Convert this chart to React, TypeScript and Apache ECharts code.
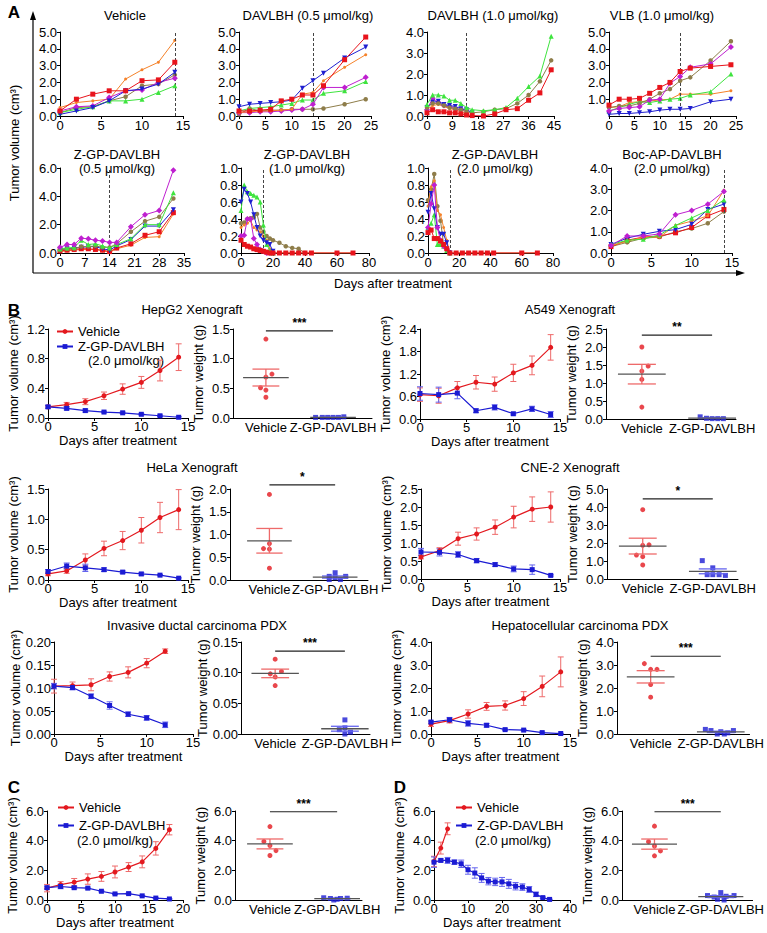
import React, { useEffect, useRef } from "react";
import * as echarts from "echarts";

const FONT = '"Liberation Sans", Arial, Helvetica, sans-serif';
const BLACK = "#000";

// ---------- Panel A data (individual mice) ----------
const aVehDays = [0, 2, 4, 6, 8, 10, 12, 14];
const aVehOrange = [0.5, 0.8, 0.9, 1.0, 2.2, 2.75, 3.2, 4.5];
const aVehRed = [0.3, 1.0, 1.3, 1.5, 1.5, 2.1, 2.15, 3.2];
const aVehBlue = [0.1, 0.3, 0.5, 0.9, 1.5, 1.6, 1.9, 2.6];
const aVehMagenta = [0.3, 0.55, 0.6, 1.1, 1.5, 1.55, 2.0, 2.25];
const aVehOlive = [0.2, 0.5, 0.55, 0.9, 1.15, 1.8, 1.9, 2.45];
const aVehGreen = [0.2, 0.4, 0.55, 0.9, 0.9, 1.0, 1.4, 1.8];

const a05Days = [0, 2, 4, 6, 8, 10, 12, 14, 16, 20, 24];
const a05Blue = [0.55, 0.7, 0.75, 0.8, 0.85, 0.95, 1.65, 2.1, 2.55, 3.45, 4.1];
const a05Red = [0.3, 0.3, 0.35, 0.4, 0.9, 1.0, 1.25, 1.25, 1.8, 3.35, 4.7];
const a05Orange = [0.2, 0.25, 0.3, 0.3, 0.35, 0.4, 1.3, 1.4, 2.1, 2.9, 3.65];
const a05Magenta = [0.2, 0.2, 0.25, 0.25, 0.3, 0.35, 0.4, 0.7, 1.7, 1.7, 2.3];
const a05Green = [0.3, 0.45, 0.5, 0.55, 0.65, 0.75, 0.95, 0.95, 1.35, 1.5, 2.05];
const a05Olive = [0.1, 0.45, 0.3, 0.35, 0.35, 0.4, 0.4, 0.4, 0.45, 0.7, 1.0];

const a10Days = [0, 2, 4, 6, 8, 10, 12, 14, 16, 20, 24, 28, 32, 36, 40, 44];
const a10Green = [0.55, 1.0, 1.0, 0.95, 0.75, 0.75, 0.6, 0.4, 0.3, 0.25, 0.3, 0.4, 0.85, 1.4, 1.9, 3.8];
const a10Olive = [0.4, 0.6, 0.6, 0.5, 0.4, 0.35, 0.3, 0.2, 0.15, 0.2, 0.3, 0.35, 0.6, 1.0, 1.65, 2.65];
const a10Red = [0.15, 0.3, 0.2, 0.2, 0.15, 0.15, 0.1, 0.05, 0.02, 0.0, 0.1, 0.3, 0.35, 0.75, 1.1, 2.2];
const a10Magenta = [0.3, 0.85, 0.65, 0.5, 0.45, 0.35, 0.3, 0.3];
const a10Blue = [0.4, 0.65, 0.7, 0.55, 0.5, 0.45, 0.35, 0.3, 0.15];
const a10Orange = [0.3, 0.5, 0.55, 0.45, 0.35, 0.3, 0.2, 0.1];

const vlbDays = [0, 2, 4, 6, 8, 10, 12, 14, 16, 20, 24];
const vlbRed = [0.65, 1.0, 1.0, 1.05, 1.35, 1.7, 2.0, 2.65, 2.85, 2.95, 3.05];
const vlbOlive = [0.5, 0.6, 0.6, 0.75, 1.0, 1.35, 1.6, 2.1, 2.3, 3.3, 4.45];
const vlbMagenta = [0.3, 0.45, 0.5, 0.55, 0.95, 1.0, 1.95, 2.35, 2.9, 3.1, 4.1];
const vlbGreen = [0.3, 0.5, 0.7, 0.85, 0.8, 0.9, 1.0, 1.05, 1.25, 1.45, 2.5];
const vlbOrange = [0.5, 0.55, 0.8, 0.85, 0.9, 0.95, 1.0, 1.3, 1.3, 1.3, 1.5];
const vlbBlue = [0.1, 0.15, 0.15, 0.2, 0.25, 0.35, 0.4, 0.4, 0.45, 0.85, 1.0];

const z05Days = [0, 2, 4, 6, 8, 10, 12, 14, 16, 20, 24, 28, 32];
const z05Magenta = [0.4, 0.6, 0.6, 1.05, 1.0, 0.9, 0.85, 0.75, 0.75, 1.85, 2.7, 3.0, 5.85];
const z05Green = [0.3, 0.35, 0.4, 0.9, 0.6, 0.65, 0.5, 0.35, 0.6, 1.0, 2.0, 2.0, 4.25];
const z05Olive = [0.2, 0.3, 0.3, 0.45, 0.45, 0.5, 0.4, 0.4, 0.65, 1.5, 2.25, 2.55, 3.85];
const z05Blue = [0.25, 0.3, 0.35, 0.4, 0.45, 0.45, 0.3, 0.2, 0.5, 0.95, 1.9, 1.9, 3.05];
const z05Red = [0.15, 0.2, 0.25, 0.3, 0.3, 0.25, 0.2, 0.1, 0.35, 0.65, 1.25, 1.5, 2.85];
const z05Orange = [0.1, 0.15, 0.2, 0.25, 0.25, 0.25, 0.15, 0.05, 0.3, 0.55, 1.1, 1.15, 2.75];

const z10Days = [0, 2, 4, 6, 8, 10, 12, 14, 16, 18, 20, 24, 28, 32, 36, 40, 44, 60, 70];
const z10Green = [0.5, 0.8, 0.72, 0.7, 0.68, 0.66, 0.6, 0.33, 0.1, 0.03, 0];
const z10Blue = [0.6, 0.75, 0.7, 0.6, 0.45, 0.3, 0.2, 0.15, 0.12, 0.1, 0.02];
const z10Olive = [0.35, 0.36, 0.4, 0.41, 0.42, 0.46, 0.3, 0.25, 0.2, 0.17, 0.15, 0.12, 0.08, 0.06, 0.05, 0.0];
const z10Orange = [0.3, 0.33, 0.35, 0.38, 0.3, 0.27, 0.25, 0.2, 0.15, 0.05, 0, 0, 0, 0, 0, 0, 0, 0, 0];
const z10Magenta = [0.2, 0.21, 0.4, 0.4, 0.17, 0.1, 0.04, 0.02, 0, 0, 0];
const z10Red = [0.15, 0.1, 0.08, 0.07, 0.05, 0.04, 0.03, 0.02, 0.01, 0, 0, 0, 0, 0, 0, 0, 0, 0, 0];

const z20Days = [0, 2, 4, 6, 8, 10, 12, 14, 18, 22, 26, 30, 34, 38, 42, 60, 70];
const z20Olive = [0.62, 0.75, 0.93, 0.55, 0.38, 0.1, 0.05, 0];
const z20Orange = [0.55, 0.78, 0.85, 0.5, 0.45, 0.3, 0.15, 0, 0, 0, 0, 0, 0, 0, 0, 0, 0];
const z20Blue = [0.48, 0.7, 0.52, 0.3, 0.22, 0.22, 0.12, 0];
const z20Magenta = [0.3, 0.58, 0.8, 0.3, 0.15, 0.08, 0.05, 0];
const z20Green = [0.3, 0.35, 0.45, 0.1, 0.1, 0.08, 0.03, 0];
const z20Red = [0.24, 0.27, 0.17, 0.17, 0.14, 0.1, 0.05, 0, 0, 0, 0, 0, 0, 0, 0, 0, 0];

const bocDays = [0, 2, 4, 6, 8, 10, 12, 14];
const bocMagenta = [0.35, 0.8, 0.8, 0.9, 1.8, 2.0, 2.3, 2.9];
const bocGreen = [0.4, 0.6, 0.65, 0.85, 1.3, 1.65, 2.0, 2.5];
const bocBlue = [0.4, 0.7, 0.88, 1.02, 1.1, 1.35, 2.05, 2.3];
const bocOrange = [0.35, 0.55, 0.75, 0.75, 1.3, 1.5, 1.75, 2.95];
const bocRed = [0.3, 0.6, 0.75, 0.8, 0.95, 1.2, 1.75, 2.05];
const bocOlive = [0.3, 0.5, 0.7, 0.75, 1.0, 1.15, 1.4, 1.95];

// ---------- Panel B/C/D data (mean ± SEM, tumour weights) ----------
const bDays = [0, 2, 4, 6, 8, 10, 12, 14];
const pdxIdcDays = [0, 2, 4, 6, 8, 10, 12];
const cDays = [0, 2, 4, 6, 8, 10, 12, 14, 16, 18];
const dVehDays = [0, 2, 4];
const dZgpDays = [0, 2, 4, 6, 8, 10, 12, 14, 16, 18, 20, 22, 24, 26, 28, 30, 32, 34];
const weightCats = ["Vehicle", "Z-GP-DAVLBH"];

const hepVehMean = [0.15, 0.18, 0.22, 0.3, 0.39, 0.48, 0.64, 0.82];
const hepVehErr = [0.02, 0.03, 0.04, 0.05, 0.07, 0.08, 0.14, 0.18];
const hepZgpMean = [0.15, 0.13, 0.1, 0.08, 0.07, 0.05, 0.03, 0.01];
const hepZgpErr = [0.02, 0.02, 0.02, 0.01, 0.01, 0.01, 0.01, 0.01];
const hepVehW = [1.33, 0.74, 0.69, 0.51, 0.47, 0.35];
const hepVehJit = [0, 0.09, 0, -0.08, 0, 0];
const hepZgpW = [0.01, 0.01, 0.01, 0.01, 0.01, 0.02];
const hepZgpJit = [-0.26, -0.16, -0.08, 0, 0.08, 0.16];

const a549VehMean = [0.65, 0.62, 0.83, 0.98, 0.93, 1.23, 1.43, 1.91];
const a549VehErr = [0.18, 0.2, 0.17, 0.18, 0.19, 0.23, 0.25, 0.34];
const a549ZgpMean = [0.68, 0.65, 0.69, 0.22, 0.31, 0.14, 0.27, 0.12];
const a549ZgpErr = [0.18, 0.2, 0.15, 0.05, 0.07, 0.03, 0.07, 0.08];
const a549VehW = [2.0, 1.47, 1.33, 1.1, 0.33];
const a549VehJit = [0, 0.09, 0, 0, 0];
const a549ZgpW = [0.06, 0.02, 0.01, 0.01, 0.01];
const a549ZgpJit = [-0.17, -0.08, 0, 0.08, 0.16];

const helaVehMean = [0.1, 0.15, 0.33, 0.52, 0.65, 0.82, 1.03, 1.16];
const helaVehErr = [0.03, 0.04, 0.1, 0.12, 0.15, 0.21, 0.25, 0.33];
const helaZgpMean = [0.14, 0.23, 0.2, 0.17, 0.13, 0.1, 0.08, 0.03];
const helaZgpErr = [0.03, 0.05, 0.06, 0.03, 0.02, 0.02, 0.01, 0.01];
const helaVehW = [1.88, 0.8, 0.69, 0.68, 0.26];
const helaVehJit = [0, 0, -0.09, 0.0, 0];
const helaZgpW = [0.16, 0.08, 0.08, 0.05, 0.01, 0.01];
const helaZgpJit = [0, -0.09, 0.16, 0, -0.09, 0.08];

const cneVehMean = [0.61, 0.79, 1.12, 1.25, 1.44, 1.72, 1.94, 2.0];
const cneVehErr = [0.05, 0.08, 0.18, 0.17, 0.2, 0.3, 0.34, 0.42];
const cneZgpMean = [0.75, 0.74, 0.68, 0.51, 0.4, 0.28, 0.26, 0.1];
const cneZgpErr = [0.1, 0.1, 0.08, 0.06, 0.05, 0.08, 0.13, 0.02];
const cneVehW = [3.85, 1.9, 1.87, 1.33, 1.24, 0.78];
const cneVehJit = [0, 0.09, 0, -0.09, 0, 0];
const cneZgpW = [1.02, 0.62, 0.24, 0.24, 0.24, 0.2];
const cneZgpJit = [-0.15, 0, -0.08, 0, 0.09, 0.18];

const idcVehMean = [0.104, 0.105, 0.107, 0.125, 0.134, 0.154, 0.18];
const idcVehErr = [0.015, 0.008, 0.013, 0.01, 0.012, 0.01, 0.005];
const idcZgpMean = [0.104, 0.101, 0.082, 0.062, 0.043, 0.035, 0.02];
const idcZgpErr = [0.006, 0.005, 0.005, 0.008, 0.005, 0.005, 0.006];
const idcVehW = [0.122, 0.102, 0.098, 0.093, 0.079];
const idcVehJit = [0, 0.09, -0.07, 0, 0];
const idcZgpW = [0.023, 0.01, 0.007, 0.003, 0.0];
const idcZgpJit = [0, 0, -0.08, 0.08, 0];

const hccVehMean = [0.43, 0.58, 0.87, 1.2, 1.24, 1.54, 2.07, 2.7];
const hccVehErr = [0.1, 0.1, 0.18, 0.17, 0.2, 0.3, 0.45, 0.65];
const hccZgpMean = [0.52, 0.62, 0.46, 0.38, 0.19, 0.17, 0.06, 0.02];
const hccZgpErr = [0.05, 0.1, 0.12, 0.08, 0.03, 0.03, 0.02, 0.01];
const hccVehW = [3.06, 2.81, 2.81, 2.15, 1.6];
const hccVehJit = [-0.09, 0, 0.09, 0, 0];
const hccZgpW = [0.2, 0.15, 0.15, 0.1, 0.05, 0.0, 0.0];
const hccZgpJit = [-0.22, -0.14, 0.18, 0, 0.1, -0.05, 0.05];

const cVehMean = [0.8, 1.04, 1.2, 1.41, 1.59, 1.89, 2.22, 2.57, 3.48, 4.74];
const cVehErr = [0.25, 0.2, 0.25, 0.35, 0.33, 0.4, 0.3, 0.4, 0.45, 0.35];
const cZgpMean = [0.83, 0.91, 0.83, 0.8, 0.59, 0.41, 0.43, 0.28, 0.13, 0.07];
const cZgpErr = [0.1, 0.15, 0.08, 0.06, 0.04, 0.04, 0.04, 0.03, 0.03, 0.02];
const cVehW = [4.95, 3.95, 3.67, 3.33, 3.0];
const cVehJit = [0, -0.09, 0, 0.09, 0];
const cZgpW = [0.15, 0.12, 0.1, 0.1, 0.05, 0.0];
const cZgpJit = [-0.2, 0.15, -0.1, 0.05, 0, -0.05];

const dVehMean = [2.6, 3.5, 4.8];
const dVehErr = [0.35, 0.4, 0.4];
const dZgpMean = [2.55, 2.67, 2.67, 2.55, 2.44, 2.04, 1.82, 1.49, 1.27, 1.22, 1.22, 1.09, 0.93, 0.87, 0.71, 0.38, 0.16, 0.04];
const dZgpErr = [0.35, 0.1, 0.2, 0.15, 0.25, 0.3, 0.35, 0.3, 0.25, 0.25, 0.3, 0.3, 0.25, 0.22, 0.2, 0.15, 0.05, 0.02];
const dVehW = [4.98, 3.93, 3.64, 3.31, 2.98];
const dVehJit = [0, -0.09, 0, 0.09, 0];
const dZgpW = [0.5, 0.3, 0.3, 0.25, 0.2, 0.05, 0.0];
const dZgpJit = [0, -0.2, 0.2, 0.08, -0.1, -0.05, 0.05];

// ---------- styling ----------
const COL: any = { red: "#e8141c", orange: "#f5822a", blue: "#1f1fd0", magenta: "#bf1fd0", olive: "#8e7d4a", green: "#3ee43e" };
const SYM: any = {
  red: { symbol: "rect", size: 5, rotate: 0 },
  orange: { symbol: "circle", size: 3, rotate: 0 },
  blue: { symbol: "triangle", size: 5, rotate: 180 },
  magenta: { symbol: "diamond", size: 6, rotate: 0 },
  olive: { symbol: "circle", size: 4.5, rotate: 0 },
  green: { symbol: "triangle", size: 5, rotate: 0 },
};
const VEH = "#e3191f";
const ZGP = "#1b1bd3";
const VEH_ERR = "#ee6a6a";
const ZGP_ERR = "#6464ee";

function buildOption() {
  const grid: any[] = [];
  const xAxis: any[] = [];
  const yAxis: any[] = [];
  const series: any[] = [];
  const graphic: any[] = [];
  const legend: any[] = [];

  const lineStyleAxis = { color: BLACK, width: 1 };
  const lbl = (extra: any = {}) => ({ color: BLACK, fontSize: 13, fontFamily: FONT, margin: 3, ...extra });
  const nameStyle = { color: BLACK, fontSize: 13, fontFamily: FONT };

  function addGrid(box: any, xo: any, yo: any) {
    const i = grid.length;
    grid.push({ left: box.l, top: box.t, width: box.r - box.l, height: box.b - box.t });
    xAxis.push({
      type: "value",
      gridIndex: i,
      min: xo.min ?? 0,
      max: xo.max,
      interval: xo.interval,
      axisLine: { show: true, onZero: false, lineStyle: lineStyleAxis },
      axisTick: { show: xo.ticks !== false, length: 3, lineStyle: lineStyleAxis },
      axisLabel: lbl(xo.label || {}),
      splitLine: { show: false },
      name: xo.name,
      nameLocation: "middle",
      nameGap: xo.nameGap ?? 17,
      nameTextStyle: nameStyle,
    });
    yAxis.push({
      type: "value",
      gridIndex: i,
      min: 0,
      max: yo.max,
      interval: yo.interval,
      axisLine: { show: true, onZero: false, lineStyle: lineStyleAxis },
      axisTick: { show: true, length: 3, lineStyle: lineStyleAxis },
      axisLabel: lbl({ formatter: (v: number) => v.toFixed(yo.dec), showMinLabel: yo.showMin !== false }),
      splitLine: { show: false },
      name: yo.name,
      nameLocation: "middle",
      nameGap: yo.nameGap ?? 28,
      nameTextStyle: nameStyle,
    });
    return i;
  }

  function text(x: number, y: number, t: string, opts: any = {}) {
    graphic.push({
      type: "text",
      x,
      y,
      rotation: opts.rotation || 0,
      silent: true,
      style: {
        text: t,
        fill: BLACK,
        font: `${opts.weight || "normal"} ${opts.size || 13}px ${FONT}`,
        textAlign: opts.align || "center",
        textVerticalAlign: "middle",
        align: opts.align || "center",
        verticalAlign: "middle",
        lineHeight: opts.lineHeight || 14,
      },
    });
  }

  // ---------- Panel A ----------
  const aPlots = [
    { title: "Vehicle", tx: 125, ty: 15, box: { l: 60, r: 183, t: 32, b: 116 }, xMax: 15, xInt: 5, yMax: 5, yInt: 1, days: aVehDays,
      lines: [["orange", aVehOrange], ["olive", aVehOlive], ["green", aVehGreen], ["magenta", aVehMagenta], ["blue", aVehBlue], ["red", aVehRed]] },
    { title: "DAVLBH (0.5 μmol/kg)", tx: 308, ty: 15, box: { l: 239, r: 371, t: 32, b: 116 }, xMax: 25, xInt: 5, yMax: 5, yInt: 1, days: a05Days,
      lines: [["olive", a05Olive], ["green", a05Green], ["magenta", a05Magenta], ["orange", a05Orange], ["blue", a05Blue], ["red", a05Red]] },
    { title: "DAVLBH (1.0 μmol/kg)", tx: 493, ty: 15, box: { l: 427, r: 554, t: 32, b: 116 }, xMax: 45, xInt: 9, yMax: 4, yInt: 1, days: a10Days,
      lines: [["orange", a10Orange], ["magenta", a10Magenta], ["blue", a10Blue], ["olive", a10Olive], ["green", a10Green], ["red", a10Red]] },
    { title: "VLB (1.0 μmol/kg)", tx: 662, ty: 15, box: { l: 609, r: 736, t: 32, b: 116 }, xMax: 25, xInt: 5, yMax: 5, yInt: 1, showMin: false, days: vlbDays,
      lines: [["orange", vlbOrange], ["green", vlbGreen], ["blue", vlbBlue], ["olive", vlbOlive], ["magenta", vlbMagenta], ["red", vlbRed]] },
    { title: "Z-GP-DAVLBH\n(0.5 μmol/kg)", tx: 117, ty: 161, box: { l: 60, r: 184, t: 168, b: 253 }, xMax: 35, xInt: 7, yMax: 6, yInt: 2, days: z05Days,
      lines: [["orange", z05Orange], ["red", z05Red], ["blue", z05Blue], ["olive", z05Olive], ["green", z05Green], ["magenta", z05Magenta]] },
    { title: "Z-GP-DAVLBH\n(1.0 μmol/kg)", tx: 307, ty: 161, box: { l: 241, r: 369, t: 168, b: 253 }, xMax: 80, xInt: 20, yMax: 1, yInt: 0.2, days: z10Days,
      lines: [["olive", z10Olive], ["orange", z10Orange], ["magenta", z10Magenta], ["green", z10Green], ["blue", z10Blue], ["red", z10Red]] },
    { title: "Z-GP-DAVLBH\n(2.0 μmol/kg)", tx: 495, ty: 161, box: { l: 428, r: 553, t: 168, b: 253 }, xMax: 80, xInt: 20, yMax: 1, yInt: 0.2, days: z20Days,
      lines: [["olive", z20Olive], ["orange", z20Orange], ["green", z20Green], ["blue", z20Blue], ["magenta", z20Magenta], ["red", z20Red]] },
    { title: "Boc-AP-DAVLBH\n(2.0 μmol/kg)", tx: 672, ty: 161, box: { l: 611, r: 732, t: 168, b: 253 }, xMax: 15, xInt: 5, yMax: 4, yInt: 1, days: bocDays,
      lines: [["olive", bocOlive], ["red", bocRed], ["orange", bocOrange], ["blue", bocBlue], ["green", bocGreen], ["magenta", bocMagenta]] },
  ];

  aPlots.forEach((p: any, pi: number) => {
    const gi = addGrid(p.box, { max: p.xMax, interval: p.xInt }, { max: p.yMax, interval: p.yInt, dec: 1, showMin: p.showMin });
    p.lines.forEach((ln: any, k: number) => {
      const key = ln[0];
      const vals = ln[1];
      const s = SYM[key];
      series.push({
        type: "line",
        name: `A${pi + 1}-${key}`,
        xAxisIndex: gi,
        yAxisIndex: gi,
        data: vals.map((v: number, j: number) => [p.days[j], v]),
        symbol: s.symbol,
        symbolSize: s.size,
        symbolRotate: s.rotate,
        showAllSymbol: true,
        lineStyle: { color: COL[key], width: 1 },
        itemStyle: { color: COL[key] },
        silent: true,
        z: 3 + k,
        markLine:
          k === 0
            ? { silent: true, symbol: "none", label: { show: false }, lineStyle: { type: [3, 2], color: "#444", width: 1 }, data: [{ xAxis: 14 }] }
            : undefined,
      });
    });
    text(p.tx, p.ty, p.title, { lineHeight: 14 });
  });

  // big axis frame of panel A
  graphic.push({ type: "line", silent: true, shape: { x1: 33, y1: 273, x2: 33, y2: 18 }, style: { stroke: BLACK, lineWidth: 1.2 } });
  graphic.push({ type: "polygon", silent: true, shape: { points: [[33, 11], [30, 20], [36, 20]] }, style: { fill: BLACK } });
  graphic.push({ type: "line", silent: true, shape: { x1: 33, y1: 273, x2: 738, y2: 273 }, style: { stroke: BLACK, lineWidth: 1.2 } });
  graphic.push({ type: "polygon", silent: true, shape: { points: [[745, 273], [736, 270], [736, 276]] }, style: { fill: BLACK } });
  text(14, 143, "Tumor volume (cm³)", { rotation: Math.PI / 2 });
  text(393, 283, "Days after treatment");

  // ---------- error bar / mean / significance renderers ----------
  const errRender = (color: string, cap: number) => (params: any, api: any) => {
    const x = api.value(0), y = api.value(1), e = api.value(2);
    const p1 = api.coord([x, y + e]);
    const p2 = api.coord([x, y - e]);
    const st = { stroke: color, lineWidth: 1, fill: "none" };
    return {
      type: "group",
      children: [
        { type: "line", shape: { x1: p1[0], y1: p1[1], x2: p2[0], y2: p2[1] }, style: st },
        { type: "line", shape: { x1: p1[0] - cap, y1: p1[1], x2: p1[0] + cap, y2: p1[1] }, style: st },
        { type: "line", shape: { x1: p2[0] - cap, y1: p2[1], x2: p2[0] + cap, y2: p2[1] }, style: st },
      ],
    };
  };

  const meanRender = (semColor: string) => (params: any, api: any) => {
    const x = api.value(0), m = api.value(1), e = api.value(2);
    const ml = api.coord([x - 0.34, m]);
    const mr = api.coord([x + 0.34, m]);
    const tl = api.coord([x - 0.2, m + e]);
    const tr = api.coord([x + 0.2, m + e]);
    const bl = api.coord([x - 0.2, m - e]);
    const br = api.coord([x + 0.2, m - e]);
    const c = api.coord([x, m]);
    const st = { stroke: semColor, lineWidth: 1.3, fill: "none" };
    return {
      type: "group",
      children: [
        { type: "line", shape: { x1: c[0], y1: tl[1], x2: c[0], y2: bl[1] }, style: st },
        { type: "line", shape: { x1: tl[0], y1: tl[1], x2: tr[0], y2: tr[1] }, style: st },
        { type: "line", shape: { x1: bl[0], y1: bl[1], x2: br[0], y2: br[1] }, style: st },
        { type: "line", shape: { x1: ml[0], y1: ml[1], x2: mr[0], y2: mr[1] }, style: { stroke: "#555", lineWidth: 1.3, fill: "none" } },
      ],
    };
  };

  const sigRender = (stars: string) => (params: any, api: any) => {
    const a = api.coord([api.value(0), api.value(2)]);
    const b = api.coord([api.value(1), api.value(2)]);
    return {
      type: "group",
      children: [
        { type: "line", shape: { x1: a[0], y1: a[1], x2: b[0], y2: b[1] }, style: { stroke: "#222", lineWidth: 1.2, fill: "none" } },
        {
          type: "text",
          x: (a[0] + b[0]) / 2,
          y: a[1] - 2,
          style: { text: stars, fill: "#000", font: `bold 12px ${FONT}`, textAlign: "center", textVerticalAlign: "bottom", align: "center", verticalAlign: "bottom" },
        },
      ],
    };
  };

  function lineWithErr(gi: number, name: string, days: number[], mean: number[], err: number[], color: string, errColor: string, symbol: string) {
    series.push({
      type: "line",
      name,
      xAxisIndex: gi,
      yAxisIndex: gi,
      data: mean.map((v, j) => [days[j], v]),
      symbol,
      symbolSize: 5,
      showAllSymbol: true,
      lineStyle: { color, width: 1.2 },
      itemStyle: { color },
      silent: true,
      z: 4,
    });
    series.push({
      type: "custom",
      name: name + " SEM",
      xAxisIndex: gi,
      yAxisIndex: gi,
      data: mean.map((v, j) => [days[j], v, err[j]]),
      encode: { x: 0, y: 1 },
      renderItem: errRender(errColor, 3),
      silent: true,
      z: 3,
    });
  }

  function weights(gi: number, cx: number, vals: number[], jit: number[], color: string, symbol: string, name: string) {
    series.push({
      type: "scatter",
      name,
      xAxisIndex: gi,
      yAxisIndex: gi,
      data: vals.map((v, j) => [cx + jit[j], v]),
      symbol,
      symbolSize: 5,
      itemStyle: { color },
      silent: true,
      z: 3,
    });
  }

  function meanSem(gi: number, cx: number, vals: number[], semColor: string) {
    const n = vals.length;
    const m = vals.reduce((a, b) => a + b, 0) / n;
    const sd = Math.sqrt(vals.reduce((a, b) => a + (b - m) * (b - m), 0) / (n - 1));
    const sem = sd / Math.sqrt(n);
    series.push({
      type: "custom",
      xAxisIndex: gi,
      yAxisIndex: gi,
      data: [[cx, m, sem]],
      encode: { x: 0, y: 1 },
      renderItem: meanRender(semColor),
      silent: true,
      z: 4,
    });
  }

  const bPanels = [
    {
      title: "HepG2 Xenograft", tx: 192, ty: 309,
      line: { l: 48, r: 188, t: 329, b: 418 }, yl: { max: 1.2, interval: 0.4, dec: 1 }, xl: { max: 15, interval: 5 },
      days: bDays, vm: hepVehMean, ve: hepVehErr, zm: hepZgpMean, ze: hepZgpErr,
      sc: { l: 233, r: 372, t: 329, b: 418 }, ys: { max: 1.5, interval: 0.5, dec: 1 }, xmin: -0.49, xmax: 1.58,
      vw: hepVehW, vj: hepVehJit, zw: hepZgpW, zj: hepZgpJit, sig: "***", sigY: 1.47,
    },
    {
      title: "A549 Xenograft", tx: 570, ty: 309,
      line: { l: 420, r: 560, t: 329, b: 419 }, yl: { max: 2.4, interval: 0.6, dec: 1 }, xl: { max: 15, interval: 5 },
      days: bDays, vm: a549VehMean, ve: a549VehErr, zm: a549ZgpMean, ze: a549ZgpErr,
      sc: { l: 606, r: 736, t: 329, b: 419 }, ys: { max: 2.5, interval: 0.5, dec: 1 }, xmin: -0.51, xmax: 1.34,
      vw: a549VehW, vj: a549VehJit, zw: a549ZgpW, zj: a549ZgpJit, sig: "**", sigY: 2.33,
    },
    {
      title: "HeLa Xenograft", tx: 192, ty: 467,
      line: { l: 48, r: 188, t: 489, b: 580 }, yl: { max: 1.5, interval: 0.5, dec: 1 }, xl: { max: 15, interval: 5 },
      days: bDays, vm: helaVehMean, ve: helaVehErr, zm: helaZgpMean, ze: helaZgpErr,
      sc: { l: 230, r: 368, t: 489, b: 580 }, ys: { max: 2.0, interval: 0.5, dec: 1 }, xmin: -0.6, xmax: 1.5,
      vw: helaVehW, vj: helaVehJit, zw: helaZgpW, zj: helaZgpJit, sig: "*", sigY: 2.09,
    },
    {
      title: "CNE-2 Xenograft", tx: 570, ty: 467,
      line: { l: 421, r: 560, t: 489, b: 579 }, yl: { max: 2.5, interval: 0.5, dec: 1 }, xl: { max: 15, interval: 5 },
      days: bDays, vm: cneVehMean, ve: cneVehErr, zm: cneZgpMean, ze: cneZgpErr,
      sc: { l: 607, r: 738, t: 489, b: 579 }, ys: { max: 5, interval: 1, dec: 1 }, xmin: -0.51, xmax: 1.36,
      vw: cneVehW, vj: cneVehJit, zw: cneZgpW, zj: cneZgpJit, sig: "*", sigY: 4.45,
    },
    {
      title: "Invasive ductal carcinoma PDX", tx: 197, ty: 625,
      line: { l: 54, r: 193, t: 642, b: 734 }, yl: { max: 0.2, interval: 0.05, dec: 2 }, xl: { max: 15, interval: 5 },
      days: pdxIdcDays, vm: idcVehMean, ve: idcVehErr, zm: idcZgpMean, ze: idcZgpErr,
      sc: { l: 241, r: 370, t: 642, b: 734 }, ys: { max: 0.15, interval: 0.05, dec: 2 }, xmin: -0.49, xmax: 1.36,
      vw: idcVehW, vj: idcVehJit, zw: idcZgpW, zj: idcZgpJit, sig: "***", sigY: 0.135,
    },
    {
      title: "Hepatocellular carcinoma PDX", tx: 580, ty: 625,
      line: { l: 431, r: 570, t: 642, b: 734 }, yl: { max: 4, interval: 1, dec: 1 }, xl: { max: 15, interval: 5 },
      days: bDays, vm: hccVehMean, ve: hccVehErr, zm: hccZgpMean, ze: hccZgpErr,
      sc: { l: 617, r: 755, t: 642, b: 734 }, ys: { max: 4, interval: 1, dec: 1 }, xmin: -0.48, xmax: 1.41,
      vw: hccVehW, vj: hccVehJit, zw: hccZgpW, zj: hccZgpJit, sig: "***", sigY: 3.38,
    },
    {
      title: "", tx: 0, ty: 0,
      line: { l: 47, r: 183, t: 811, b: 900 }, yl: { max: 6, interval: 2, dec: 1 }, xl: { max: 20, interval: 5 },
      days: cDays, vm: cVehMean, ve: cVehErr, zm: cZgpMean, ze: cZgpErr,
      sc: { l: 235, r: 362, t: 811, b: 900 }, ys: { max: 6, interval: 2, dec: 1 }, xmin: -0.52, xmax: 1.37,
      vw: cVehW, vj: cVehJit, zw: cZgpW, zj: cZgpJit, sig: "***", sigY: 5.95,
    },
    {
      title: "", tx: 0, ty: 0, dPanel: true,
      line: { l: 434, r: 570, t: 811, b: 900 }, yl: { max: 6, interval: 2, dec: 1 }, xl: { max: 40, interval: 10 },
      days: dZgpDays, vm: dVehMean, ve: dVehErr, zm: dZgpMean, ze: dZgpErr,
      sc: { l: 622, r: 758, t: 811, b: 900 }, ys: { max: 6, interval: 2, dec: 1 }, xmin: -0.49, xmax: 1.48,
      vw: dVehW, vj: dVehJit, zw: dZgpW, zj: dZgpJit, sig: "***", sigY: 5.95,
    },
  ];

  bPanels.forEach((p: any) => {
    const gl = addGrid(
      p.line,
      { max: p.xl.max, interval: p.xl.interval, name: "Days after treatment", nameGap: 13, label: { margin: 2 } },
      { max: p.yl.max, interval: p.yl.interval, dec: p.yl.dec, name: "Tumor volume (cm³)", nameGap: 28 }
    );
    const vDays = p.dPanel ? dVehDays : p.days;
    lineWithErr(gl, "Vehicle", vDays, p.vm, p.ve, VEH, VEH_ERR, "circle");
    lineWithErr(gl, "Z-GP-DAVLBH", p.days, p.zm, p.ze, ZGP, ZGP_ERR, "rect");

    const gs = addGrid(
      p.sc,
      {
        min: p.xmin,
        max: p.xmax,
        ticks: false,
        label: { customValues: [0, 1], formatter: (v: number) => weightCats[Math.round(v)], margin: 3 },
      },
      { max: p.ys.max, interval: p.ys.interval, dec: p.ys.dec, name: "Tumor weight (g)", nameGap: 28 }
    );
    weights(gs, 0, p.vw, p.vj, VEH, "circle", "Vehicle weight");
    weights(gs, 1, p.zw, p.zj, ZGP, "rect", "Z-GP-DAVLBH weight");
    meanSem(gs, 0, p.vw, VEH_ERR);
    meanSem(gs, 1, p.zw, ZGP_ERR);
    series.push({
      type: "custom",
      xAxisIndex: gs,
      yAxisIndex: gs,
      data: [[0, 1, p.sigY]],
      encode: { x: [0, 1], y: 2 },
      renderItem: sigRender(p.sig),
      silent: true,
      clip: false,
      z: 5,
    });
    if (p.title) text(p.tx, p.ty, p.title);
  });

  // panel letters
  text(14, 12, "A", { weight: "bold", size: 17 });
  text(14, 310, "B", { weight: "bold", size: 17 });
  text(14, 787, "C", { weight: "bold", size: 17 });
  text(400, 787, "D", { weight: "bold", size: 17 });

  // legends
  const legendBase = {
    orient: "vertical",
    itemWidth: 16,
    itemHeight: 6,
    selectedMode: false,
    data: ["Vehicle", "Z-GP-DAVLBH"],
    textStyle: { color: BLACK, fontSize: 13, fontFamily: FONT, lineHeight: 13 },
    padding: 0,
  };
  legend.push({ ...legendBase, left: 56, top: 325, itemGap: 2 });
  legend.push({ ...legendBase, left: 57, top: 801, itemGap: 5 });
  legend.push({ ...legendBase, left: 455, top: 801, itemGap: 5 });
  text(88, 360, "(2.0 μmol/kg)", { align: "left" });
  text(77, 840, "(2.0 μmol/kg)", { align: "left" });
  text(475, 840, "(2.0 μmol/kg)", { align: "left" });

  return {
    animation: false,
    backgroundColor: "#fff",
    textStyle: { fontFamily: FONT },
    grid,
    xAxis,
    yAxis,
    series,
    legend,
    graphic: { elements: graphic },
  };
}

export default function App() {
  const ref = useRef<HTMLDivElement>(null);
  useEffect(() => {
    if (!ref.current) return;
    const chart = echarts.init(ref.current, null, { renderer: "svg" });
    chart.setOption(buildOption() as any);
    return () => chart.dispose();
  }, []);
  return (
    <div
      ref={ref}
      style={{ position: "absolute", left: 0, top: 0, width: 767, height: 933, background: "#fff" }}
    />
  );
}
